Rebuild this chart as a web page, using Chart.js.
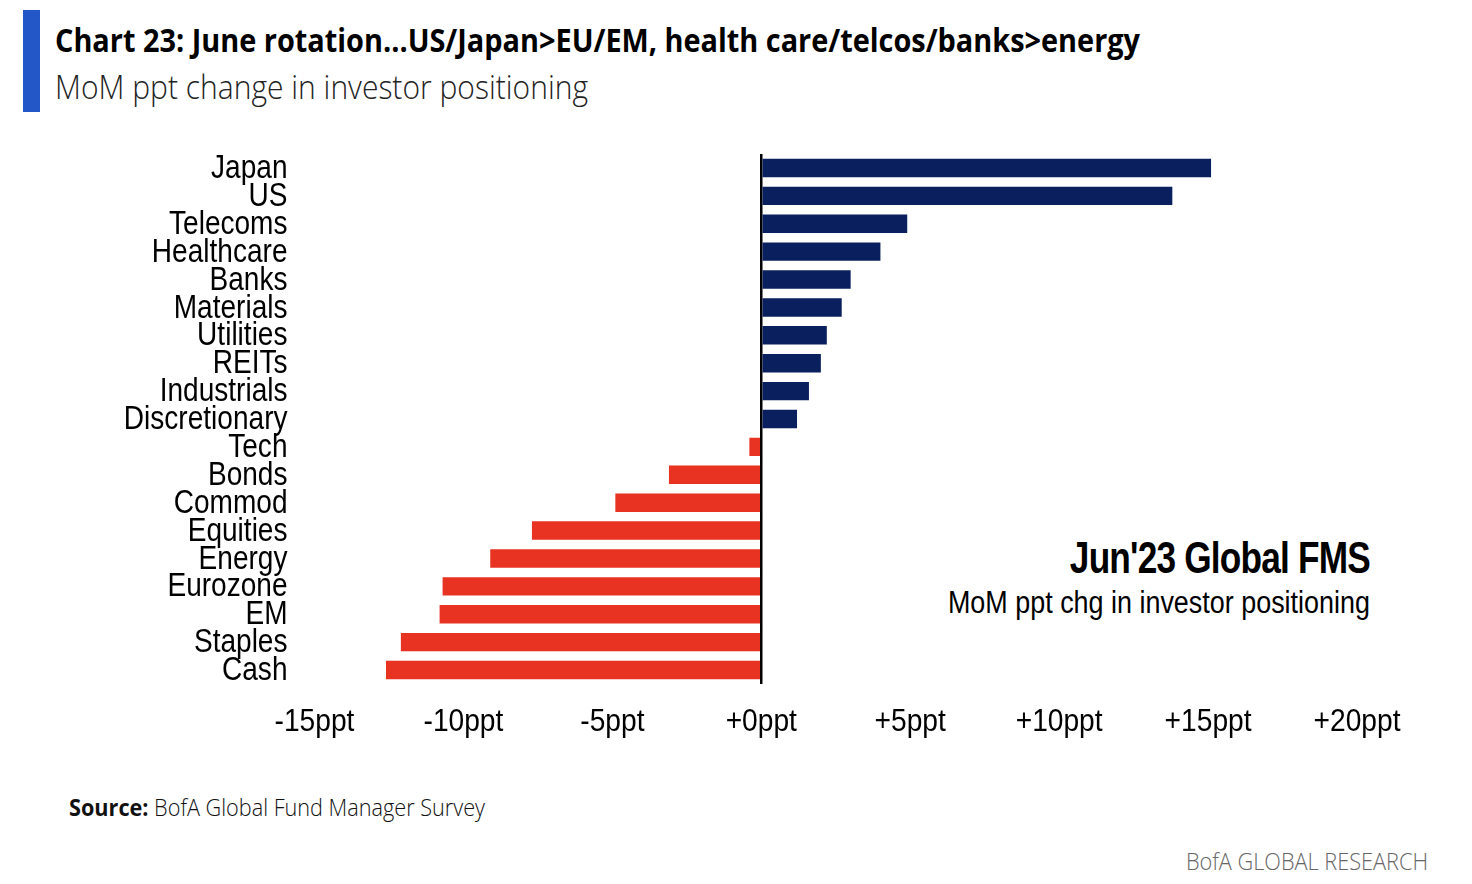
<!DOCTYPE html>
<html>
<head>
<meta charset="utf-8">
<script src="https://cdn.jsdelivr.net/npm/chart.js@4.4.1/dist/chart.umd.min.js"></script>
<style>
  body { margin: 0; background: #fff; width: 1472px; height: 884px; overflow: hidden; position: relative; font-family: "Open Sans", sans-serif; }
  .accent { position: absolute; left: 23px; top: 10px; width: 17px; height: 102px; background: #2356c6; }
  .fit { position: absolute; white-space: nowrap; transform-origin: left top; }
  #title { left: 55px; top: 17px; font-size: 33px; font-weight: 700; color: #000; }
  #subtitle { left: 55px; top: 64px; font-size: 33px; font-weight: 300; color: #222; }
  #source { left: 69px; top: 790px; font-size: 24px; font-weight: 300; color: #111; }
  #source b { font-weight: 700; }
  #brand { left: 1186px; top: 844px; font-size: 24px; font-weight: 300; color: #666; }
  .note { position: absolute; right: 102px; white-space: nowrap; font-family: "Liberation Sans", Arial, sans-serif; color: #000; transform-origin: right top; }
  #note1 { top: 533px; font-size: 44px; font-weight: 700; letter-spacing: -1px; }
  #note2 { top: 585px; font-size: 31px; }
  #wrap { position: absolute; left: 0; top: 130px; width: 1472px; height: 630px; }
</style>
</head>
<body>
<div class="accent"></div>
<div class="fit" id="title" data-w="1085">Chart 23: June rotation...US/Japan&gt;EU/EM, health care/telcos/banks&gt;energy</div>
<div class="fit" id="subtitle" data-w="533">MoM ppt change in investor positioning</div>
<div class="fit" id="source" data-w="416"><b>Source:</b> BofA Global Fund Manager Survey</div>
<div class="fit" id="brand" data-w="242">BofA GLOBAL RESEARCH</div>
<div class="note fit" id="note1" data-w="300">Jun'23 Global FMS</div>
<div class="note fit" id="note2" data-w="422">MoM ppt chg in investor positioning</div>
<div id="wrap"><canvas id="chart"></canvas></div>
<script>
// Categories top to bottom and MoM ppt change
const categories = ["Japan", "US", "Telecoms", "Healthcare", "Banks", "Materials", "Utilities", "REITs", "Industrials", "Discretionary",
  "Tech", "Bonds", "Commod", "Equities", "Energy", "Eurozone", "EM", "Staples", "Cash"];
const momChange = [15.1, 13.8, 4.9, 4.0, 3.0, 2.7, 2.2, 2.0, 1.6, 1.2,
  -0.4, -3.1, -4.9, -7.7, -9.1, -10.7, -10.8, -12.1, -12.6];
const xTicks = [-15, -10, -5, 0, 5, 10, 15, 20];

const NAVY = "#0a1f5e";
const RED = "#e83323";
const FONT = "'Liberation Sans', Arial, sans-serif";

// squeeze the condensed-looking texts to their widths
document.querySelectorAll(".fit").forEach(el => {
  const w = el.getBoundingClientRect().width;
  el.style.transform = `scaleX(${el.dataset.w / w})`;
});

// draws tick labels in a condensed style (canvas has no narrow font here)
const narrowTicks = {
  id: "narrowTicks",
  afterDraw(chart) {
    const ctx = chart.ctx;
    const area = chart.chartArea;
    const {x, y} = chart.scales;
    ctx.save();
    ctx.fillStyle = "#000";
    ctx.textBaseline = "middle";
    ctx.font = "33px " + FONT;
    ctx.textAlign = "right";
    y.ticks.forEach((t, i) => {
      ctx.save();
      ctx.translate(area.left - 27, y.getPixelForTick(i) + 1);
      ctx.scale(0.85, 1);
      ctx.fillText(categories[i], 0, 0);
      ctx.restore();
    });
    ctx.font = "32px " + FONT;
    ctx.textAlign = "center";
    xTicks.forEach(v => {
      ctx.save();
      ctx.translate(x.getPixelForValue(v), area.bottom + 38);
      ctx.scale(0.88, 1);
      ctx.fillText((v >= 0 ? "+" : "") + v + "ppt", 0, 0);
      ctx.restore();
    });
    ctx.restore();
  },
};

new Chart(document.getElementById("chart"), {
  type: "bar",
  data: {
    labels: categories,
    datasets: [{
      data: momChange,
      backgroundColor: momChange.map(v => v >= 0 ? NAVY : RED),
      borderWidth: 0,
      barPercentage: 0.66,
      categoryPercentage: 1,
    }],
  },
  plugins: [narrowTicks],
  options: {
    indexAxis: "y",
    animation: false, responsive: true, maintainAspectRatio: false,
    layout: { padding: { top: 24, right: 115, left: 0, bottom: 0 } },
    plugins: { legend: { display: false }, tooltip: { enabled: false } },
    scales: {
      x: {
        min: -15, max: 20,
        afterBuildTicks: (axis) => { axis.ticks = xTicks.map(v => ({ value: v })); },
        afterFit: (axis) => { axis.height = 76; },
        ticks: { display: false },
        grid: {
          drawTicks: false,
          color: (ctx) => ctx.tick && ctx.tick.value === 0 ? "#000" : "rgba(0,0,0,0)",
          lineWidth: 2.5,
        },
        border: { display: false },
      },
      y: {
        afterFit: (axis) => { axis.width = 314.5; },
        ticks: { display: false },
        grid: { display: false },
        border: { display: false },
      },
    },
  },
});
</script>
</body>
</html>
